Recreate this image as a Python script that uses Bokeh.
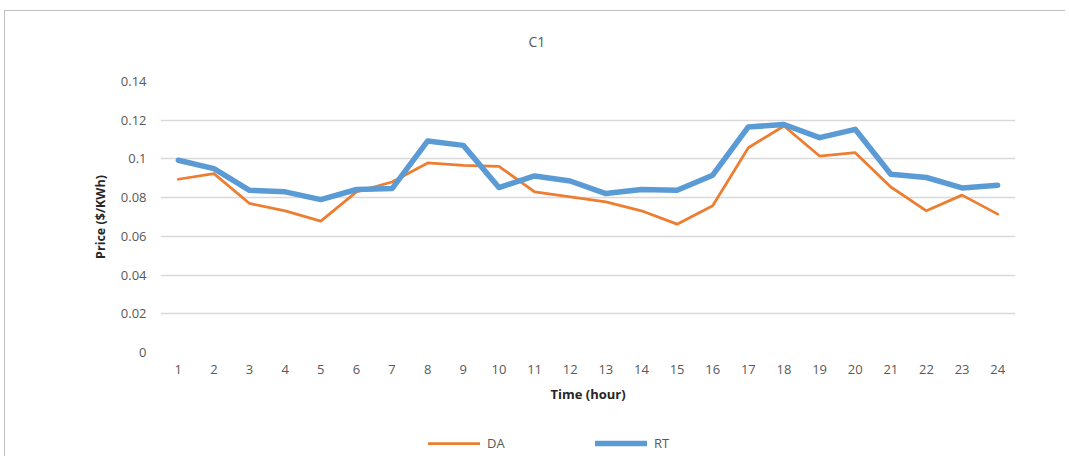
from bokeh.plotting import figure
from bokeh.models import FixedTicker, CustomJSTickFormatter, Legend, LegendItem, Range1d, Title
from bokeh.layouts import column
from bokeh.embed import file_html
from bokeh.resources import INLINE

hours = list(range(1, 25))
da = [0.0895, 0.0924, 0.0770, 0.0732, 0.0679, 0.0830, 0.0881, 0.0979, 0.0967, 0.0962, 0.0830, 0.0804,
      0.0778, 0.0732, 0.0663, 0.0758, 0.1058, 0.1170, 0.1015, 0.1032, 0.0855, 0.0732, 0.0813, 0.0715]
rt = [0.0993, 0.0950, 0.0838, 0.0830, 0.0790, 0.0842, 0.0847, 0.1093, 0.1070, 0.0852, 0.0912, 0.0886,
      0.0821, 0.0842, 0.0838, 0.0916, 0.1165, 0.1178, 0.1110, 0.1153, 0.0921, 0.0904, 0.0850, 0.0864]
y_ticks = [0, 0.02, 0.04, 0.06, 0.08, 0.10, 0.12, 0.14]
series_names = ["DA", "RT"]
series_colors = ["#ed7d31", "#5b9bd5"]
series_widths = [2.75, 5.5]

FONT = "Open Sans"
GRAY = "#595959"

W = 1060
p = figure(width=W, height=399, output_backend="svg", toolbar_location=None,
           x_range=Range1d(0.5, 24.5), y_range=Range1d(0, 0.14),
           min_border_left=155, min_border_right=50, min_border_top=70, min_border_bottom=58)
p.outline_line_color = None
p.background_fill_color = "white"
p.border_fill_color = "white"

p.title.text = "C1"
p.title.align = "left"
p.title.offset = 368
p.title.standoff = 20
p.title.text_font = FONT
p.title.text_font_size = "14px"
p.title.text_font_style = "normal"
p.title.text_color = GRAY
# blank spacer panel between the title and the plot area
p.add_layout(Title(text=" ", text_font=FONT, text_font_size="14px", standoff=0), "above")

p.xgrid.grid_line_color = None
p.ygrid.grid_line_color = "#d9d9d9"
p.ygrid.grid_line_width = 1.5
p.ygrid.ticker = FixedTicker(ticks=y_ticks)

p.xaxis.ticker = FixedTicker(ticks=hours)
p.xaxis.axis_line_color = None
p.xaxis.major_tick_line_color = None
p.xaxis.minor_tick_line_color = None
p.xaxis.major_tick_out = 0
p.xaxis.major_tick_in = 0
p.xaxis.major_label_standoff = 12
p.xaxis.major_label_text_font = FONT
p.xaxis.major_label_text_font_size = "13px"
p.xaxis.major_label_text_color = GRAY
p.xaxis.axis_label = "Time (hour)"
p.xaxis.axis_label_text_font = FONT
p.xaxis.axis_label_text_font_size = "13px"
p.xaxis.axis_label_text_font_style = "bold"
p.xaxis.axis_label_text_color = "#262626"
p.xaxis.axis_label_standoff = 8

p.yaxis.ticker = FixedTicker(ticks=y_ticks)
p.yaxis.formatter = CustomJSTickFormatter(code="return String(Number(tick.toFixed(2)));")
p.yaxis.axis_line_color = None
p.yaxis.major_tick_line_color = None
p.yaxis.minor_tick_line_color = None
p.yaxis.major_tick_out = 0
p.yaxis.major_tick_in = 0
p.yaxis.major_label_standoff = 14
p.yaxis.major_label_text_font = FONT
p.yaxis.major_label_text_font_size = "13px"
p.yaxis.major_label_text_color = GRAY
p.yaxis.axis_label = "Price ($/KWh)"
p.yaxis.axis_label_text_font = FONT
p.yaxis.axis_label_text_font_size = "12.5px"
p.yaxis.axis_label_text_font_style = "bold"
p.yaxis.axis_label_text_color = "#262626"
p.yaxis.axis_label_standoff = 9

for vals, c, w in zip([da, rt], series_colors, series_widths):
    p.line(hours, vals, line_color=c, line_width=w, line_join="round", line_cap="round")

# legend strip below the chart (its own lines are kept out of view)
lg = figure(width=W, height=46, output_backend="svg", toolbar_location=None,
            x_range=Range1d(100, 101), y_range=Range1d(100, 101),
            min_border_left=155, min_border_right=50, min_border_top=0, min_border_bottom=0)
lg.axis.visible = False
lg.grid.visible = False
lg.outline_line_color = None
items = []
for name, vals, c, w in zip(series_names, [da, rt], series_colors, series_widths):
    r = lg.line(hours, vals, line_color=c, line_width=w, line_cap="round")
    items.append(LegendItem(label=name, renderers=[r]))
legend = Legend(items=items, orientation="horizontal", location=(268, 3),
                padding=0, margin=0, spacing=14, glyph_width=52, glyph_height=20,
                label_width=94, label_standoff=7,
                label_text_font=FONT, label_text_font_size="13px", label_text_color=GRAY,
                border_line_color=None, background_fill_alpha=0)
lg.add_layout(legend, "center")

page = column(p, lg, spacing=0,
              styles={"border-left": "1px solid #bfbfbf", "border-top": "1px solid #bfbfbf",
                      "margin-left": "4px", "margin-top": "10px"})

open("out.html", "w").write(file_html(page, INLINE))
